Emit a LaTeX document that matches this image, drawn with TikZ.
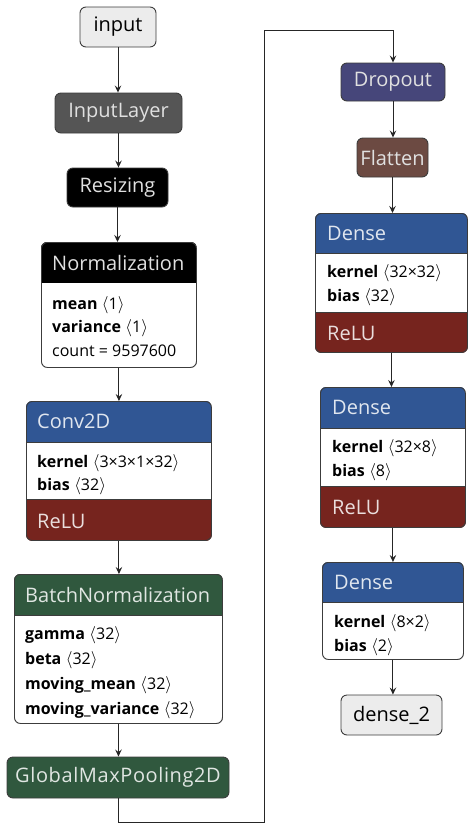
\documentclass[tikz,border=0pt]{standalone}
\usepackage{fontspec}
\setmainfont{Open Sans}
\usetikzlibrary{arrows.meta,positioning}
\definecolor{edgegray}{RGB}{60,60,60}
\definecolor{inputgray}{RGB}{236,236,236}
\definecolor{layergray}{RGB}{85,85,85}
\definecolor{convblue}{RGB}{48,86,148}
\definecolor{relured}{RGB}{118,36,30}
\definecolor{normgreen}{RGB}{48,88,62}
\definecolor{dropviolet}{RGB}{70,70,122}
\definecolor{flatbrown}{RGB}{108,74,66}
\tikzset{
  % outline of every layer box
  frame/.style={draw=edgegray, line width=0.9pt, rounded corners=6pt, inner sep=0pt,
    anchor=north west},
  % one-line layers
  plain/.style={frame, anchor=center, minimum height=40pt, font=\fontsize{20}{22}\selectfont},
  darkplain/.style={plain, text=white!88!black},
  % header text and parameter list of the larger layers
  title/.style={anchor=west, inner sep=0pt, font=\fontsize{20}{22}\selectfont},
  params/.style={anchor=north west, align=left, inner sep=0pt, font=\fontsize{16}{23.5}\selectfont},
  flow/.style={-{Stealth[length=7pt,width=6.5pt,inset=2.5pt]}, line width=1pt, black!85},
}
\newcommand{\shp}[1]{\;$\langle$#1$\rangle$}

\begin{document}
\begin{tikzpicture}[x=1pt, y=-1pt]
  \useasboundingbox (0,0) rectangle (468,825);
  % --- left column ---
  \node[plain, fill=inputgray, minimum width=76pt] (input) at (118,27) {input};
  \node[darkplain, fill=layergray, minimum width=127pt] (inlayer) at (118.5,113) {InputLayer};
  \node[darkplain, fill=black, minimum width=101pt, minimum height=39pt] (resize) at (117.5,187.5) {Resizing};

  % Normalization
  \node[frame, minimum width=155pt, minimum height=125pt] (norm) at (41,242) {};
  \begin{scope}
    \clip[rounded corners=6pt] (norm.north west) rectangle (norm.south east);
    \fill[white] (norm.north west) rectangle (norm.south east);
    \fill[black] (norm.north west) rectangle (196,283);
  \end{scope}
  \node[frame, minimum width=155pt, minimum height=125pt] at (41,242) {};
  \node[title, text=white!88!black] (norm-title) at (52,262.5) {Normalization};
  \node[params] (norm-params) at (52,296)
    {\textbf{mean}\shp{1}\\ \textbf{variance}\shp{1}\\ count = 9597600};

  % Conv2D
  \node[frame, minimum width=185pt, minimum height=139pt] (conv) at (26,401) {};
  \begin{scope}
    \clip[rounded corners=6pt] (conv.north west) rectangle (conv.south east);
    \fill[white] (conv.north west) rectangle (conv.south east);
    \fill[convblue] (conv.north west) rectangle (211,442);
    \fill[relured] (26,499) rectangle (conv.south east);
  \end{scope}
  \draw[edgegray, line width=0.6pt] (26,442) -- (211,442) (26,499) -- (211,499);
  \node[frame, minimum width=185pt, minimum height=139pt] at (26,401) {};
  \node[title, text=white!85!convblue] (conv-title) at (37,421.5) {Conv2D};
  \node[params] (conv-params) at (37,454)
    {\textbf{kernel}\shp{3×3×1×32}\\ \textbf{bias}\shp{32}};
  \node[title, text=white!85!relured] (conv-act) at (37,521) {ReLU};

  % BatchNormalization
  \node[frame, minimum width=208pt, minimum height=149pt] (bn) at (14,574) {};
  \begin{scope}
    \clip[rounded corners=6pt] (bn.north west) rectangle (bn.south east);
    \fill[white] (bn.north west) rectangle (bn.south east);
    \fill[normgreen] (bn.north west) rectangle (222,615);
  \end{scope}
  \draw[edgegray, line width=0.6pt] (14,615) -- (222,615);
  \node[frame, minimum width=208pt, minimum height=149pt] at (14,574) {};
  \node[title, text=white!85!normgreen] (bn-title) at (25,594.5) {BatchNormalization};
  \node[params, font=\fontsize{16}{25}\selectfont] (bn-params) at (25,626)
    {\textbf{gamma}\shp{32}\\ \textbf{beta}\shp{32}\\
     \textbf{moving\_mean}\shp{32}\\ \textbf{moving\_variance}\shp{32}};

  \node[darkplain, fill=normgreen, text=white!85!normgreen, minimum width=222pt, minimum height=41pt,
    font=\addfontfeature{LetterSpace=3}\fontsize{20}{22}\selectfont]
    (gmp) at (118,777.5) {GlobalMaxPooling2D};

  % --- right column ---
  \node[darkplain, fill=dropviolet, minimum width=104pt, minimum height=38pt] (drop) at (393,82) {Dropout};
  \node[darkplain, fill=flatbrown, minimum width=71pt, minimum height=39pt] (flat) at (392.5,157.5) {Flatten};

  % Dense 32x32
  \node[frame, minimum width=152pt, minimum height=139pt] (dense1) at (315,213) {};
  \begin{scope}
    \clip[rounded corners=6pt] (dense1.north west) rectangle (dense1.south east);
    \fill[white] (dense1.north west) rectangle (dense1.south east);
    \fill[convblue] (dense1.north west) rectangle (467,253);
    \fill[relured] (315,312) rectangle (dense1.south east);
  \end{scope}
  \draw[edgegray, line width=0.6pt] (315,253) -- (467,253) (315,312) -- (467,312);
  \node[frame, minimum width=152pt, minimum height=139pt] at (315,213) {};
  \node[title, text=white!85!convblue] (dense1-title) at (327,233) {Dense};
  \node[params] (dense1-params) at (327,264.5)
    {\textbf{kernel}\shp{32×32}\\ \textbf{bias}\shp{32}};
  \node[title, text=white!85!relured] (dense1-act) at (327,333) {ReLU};

  % Dense 32x8
  \node[frame, minimum width=145pt, minimum height=140pt] (dense2) at (320,387) {};
  \begin{scope}
    \clip[rounded corners=6pt] (dense2.north west) rectangle (dense2.south east);
    \fill[white] (dense2.north west) rectangle (dense2.south east);
    \fill[convblue] (dense2.north west) rectangle (465,428);
    \fill[relured] (320,486) rectangle (dense2.south east);
  \end{scope}
  \draw[edgegray, line width=0.6pt] (320,428) -- (465,428) (320,486) -- (465,486);
  \node[frame, minimum width=145pt, minimum height=140pt] at (320,387) {};
  \node[title, text=white!85!convblue] (dense2-title) at (332,407.5) {Dense};
  \node[params] (dense2-params) at (332,439.5)
    {\textbf{kernel}\shp{32×8}\\ \textbf{bias}\shp{8}};
  \node[title, text=white!85!relured] (dense2-act) at (332,507.5) {ReLU};

  % Dense 8x2
  \node[frame, minimum width=141pt, minimum height=97pt] (dense3) at (322,562) {};
  \begin{scope}
    \clip[rounded corners=6pt] (dense3.north west) rectangle (dense3.south east);
    \fill[white] (dense3.north west) rectangle (dense3.south east);
    \fill[convblue] (dense3.north west) rectangle (463,602);
  \end{scope}
  \draw[edgegray, line width=0.6pt] (322,602) -- (463,602);
  \node[frame, minimum width=141pt, minimum height=97pt] at (322,562) {};
  \node[title, text=white!85!convblue] (dense3-title) at (334,582) {Dense};
  \node[params] (dense3-params) at (334,614.5)
    {\textbf{kernel}\shp{8×2}\\ \textbf{bias}\shp{2}};

  \node[plain, fill=inputgray, minimum width=101pt] (out) at (391.5,715) {dense\_2};

  % connectors
  \draw[flow] (input.south) -- (input.south |- inlayer.north);
  \draw[flow] (inlayer.south) -- (inlayer.south |- resize.north);
  \draw[flow] (resize.south) -- (resize.south |- norm.north);
  \draw[flow] (norm.south) -- (norm.south |- conv.north);
  \draw[flow] (conv.south) -- (conv.south |- bn.north);
  \draw[flow] (bn.south) -- (bn.south |- gmp.north);
  \coordinate (loopbottom) at (118,822);
  \coordinate (looptop) at (264,30);
  \draw[flow] (gmp.south) -- (loopbottom) -| (looptop) -| (drop.north);
  \draw[flow] (drop.south) -- (drop.south |- flat.north);
  \draw[flow] (flat.south) -- (flat.south |- dense1.north);
  \draw[flow] (dense1.south) -- (dense1.south |- dense2.north);
  \draw[flow] (dense2.south) -- (dense2.south |- dense3.north);
  \draw[flow] (dense3.south) -- (dense3.south |- out.north);
\end{tikzpicture}
\end{document}
